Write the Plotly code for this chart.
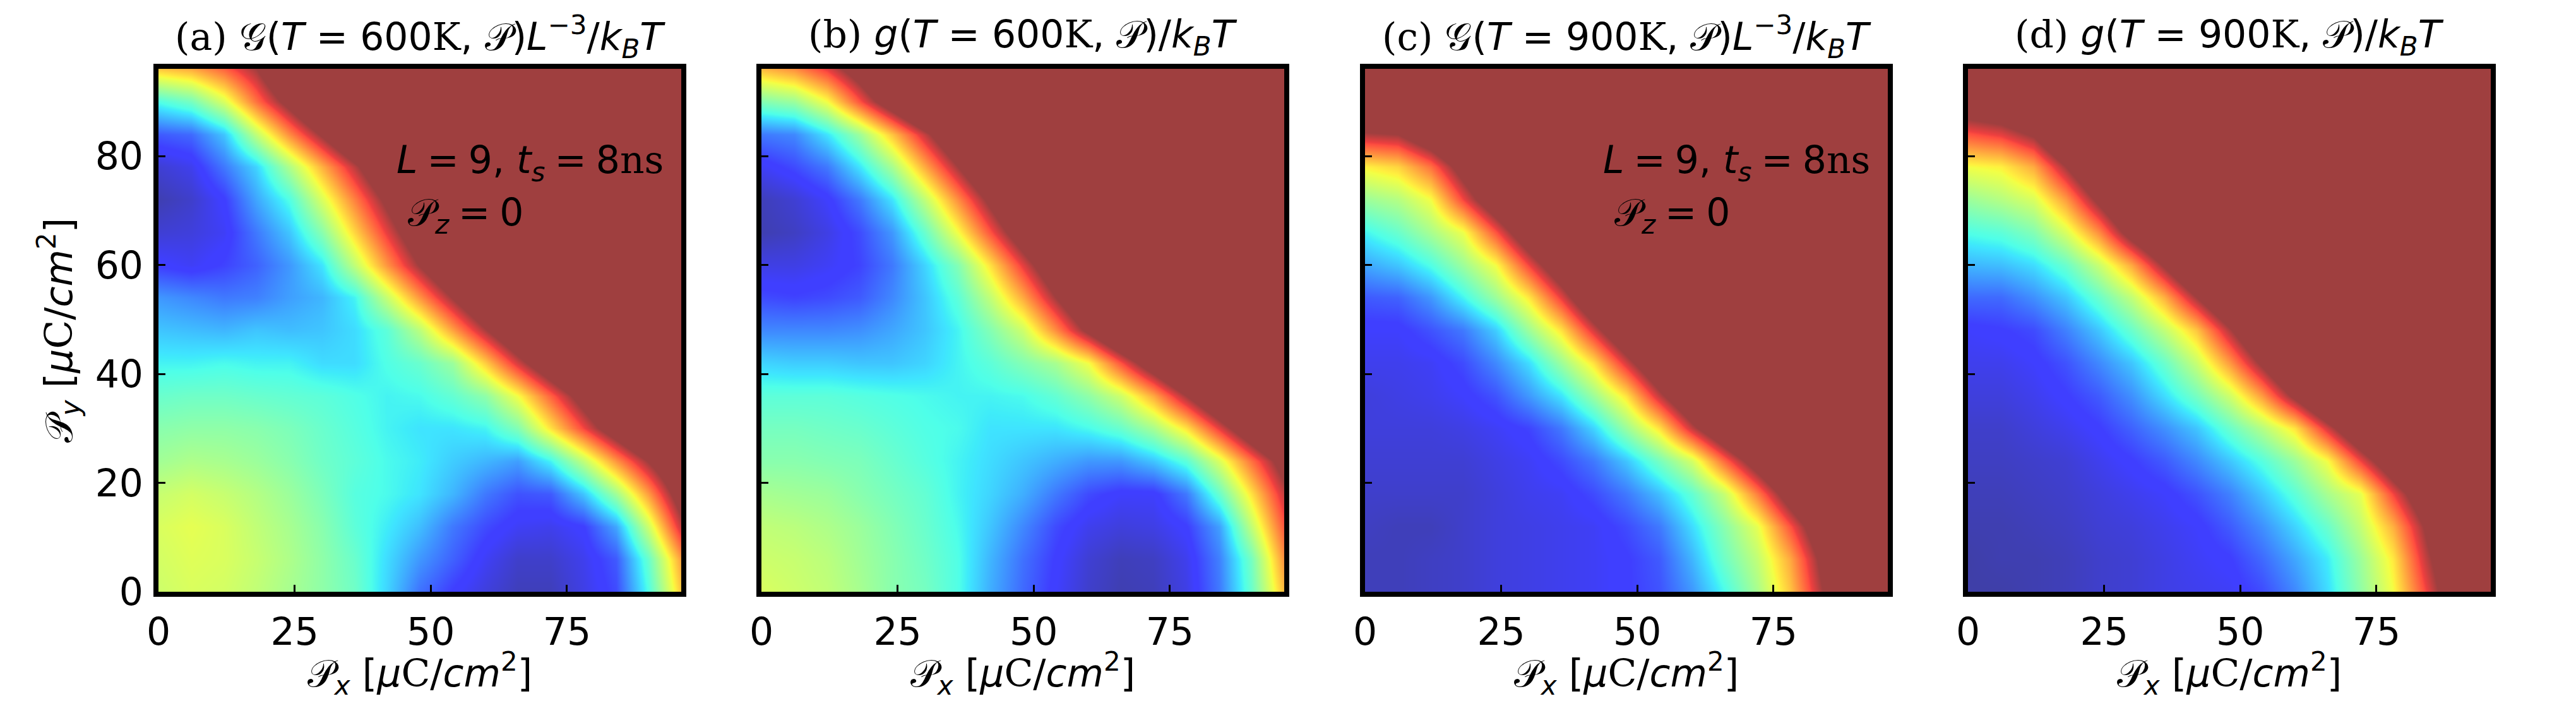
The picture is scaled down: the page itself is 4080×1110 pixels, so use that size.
import plotly.graph_objects as go

# the page keeps its 8px body margin, so the figure is that much smaller than the window
MARGIN = 8
W, H = 4080 - MARGIN, 1110 - MARGIN

# grid of the maps, both axes, in uC/cm2
grid = [0, 6, 12, 18, 24, 30, 36, 42, 48, 54, 60, 66, 72, 78, 84, 90, 96]
x_ticks = [0, 25, 50, 75]
y_ticks = [0, 20, 40, 60, 80]

# normalised free energy, one list per y value; above 1 is off the colour scale,
# rows stop where the map is deep in the saturated part
G_600 = [
    [.58, .60, .59, .56, .52, .48, .43, .32, .19, .12, .07, .03, .03, .08, .14, .38, .72],
    [.59, .61, .60, .57, .53, .48, .42, .33, .24, .17, .10, .05, .05, .09, .16, .42, .78],
    [.60, .62, .60, .56, .52, .47, .40, .35, .29, .20, .14, .10, .09, .12, .26, .58, .96],
    [.57, .59, .57, .54, .50, .45, .39, .37, .34, .28, .20, .15, .16, .30, .51, .78, 1.1],
    [.51, .53, .52, .50, .47, .43, .40, .37, .35, .31, .28, .25, .36, .56, .79, 1.01, 1.23],
    [.47, .48, .48, .47, .45, .42, .39, .36, .34, .34, .36, .46, .68, .90, 1.12, 1.34],
    [.42, .43, .43, .42, .41, .40, .38, .36, .37, .41, .48, .64, .86, 1.08, 1.3],
    [.36, .36, .37, .36, .36, .33, .33, .38, .42, .50, .71, .94, 1.16, 1.38],
    [.30, .29, .28, .30, .29, .30, .33, .40, .55, .77, .99, 1.21, 1.43],
    [.24, .22, .20, .21, .25, .28, .36, .57, .79, 1.01, 1.23, 1.45],
    [.12, .10, .13, .17, .24, .34, .56, .79, 1.01, 1.23, 1.45],
    [.06, .07, .10, .20, .30, .47, .70, .92, 1.14, 1.36],
    [.02, .05, .12, .26, .38, .60, .82, 1.04, 1.26],
    [.06, .09, .20, .32, .53, .75, .97, 1.2, 1.42],
    [.16, .18, .30, .56, .80, 1.02, 1.25, 1.47],
    [.38, .44, .60, .84, 1.06, 1.3],
    [.72, .76, .86, 1.0, 1.25],
]

g_600 = [
    [.60, .58, .56, .52, .47, .44, .38, .27, .18, .11, .05, .02, .03, .08, .20, .42, .74],
    [.58, .57, .55, .51, .47, .43, .38, .28, .19, .12, .06, .03, .04, .09, .21, .44, .80],
    [.56, .55, .53, .50, .46, .42, .37, .30, .22, .14, .09, .07, .08, .12, .25, .56, .88],
    [.52, .51, .50, .47, .44, .41, .36, .32, .27, .20, .14, .11, .11, .20, .42, .68, .96],
    [.47, .47, .46, .45, .42, .39, .36, .33, .30, .27, .24, .24, .30, .40, .60, .84, 1.08],
    [.44, .44, .43, .42, .40, .38, .37, .34, .34, .34, .37, .42, .52, .68, .92, 1.16, 1.4],
    [.40, .40, .40, .39, .38, .37, .36, .36, .37, .41, .48, .58, .76, 1.0, 1.24, 1.48],
    [.32, .31, .31, .30, .30, .32, .36, .40, .46, .52, .64, .88, 1.12, 1.36],
    [.22, .22, .22, .23, .26, .30, .36, .46, .58, .80, 1.04, 1.28, 1.5],
    [.14, .13, .14, .16, .22, .30, .40, .56, .76, 1.0, 1.24, 1.48],
    [.08, .08, .10, .13, .20, .32, .46, .68, .92, 1.16, 1.4],
    [.02, .04, .08, .14, .24, .42, .64, .88, 1.12, 1.36],
    [.03, .06, .11, .20, .34, .56, .80, 1.04, 1.28, 1.5],
    [.10, .14, .20, .34, .52, .76, 1.0, 1.24, 1.48],
    [.20, .22, .34, .50, .72, .96, 1.2, 1.44],
    [.46, .50, .64, .88, 1.12, 1.36],
    [.74, .80, .92, 1.1, 1.35],
]

G_900 = [
    [.03, .03, .04, .05, .07, .08, .09, .10, .12, .15, .24, .37, .52, .72, 1.0, 1.25],
    [.03, .03, .04, .05, .07, .08, .09, .10, .12, .16, .28, .43, .56, .76, 1.05, 1.3],
    [.04, .03, .03, .05, .07, .08, .09, .10, .14, .20, .33, .47, .62, .88, 1.15, 1.4],
    [.05, .05, .05, .05, .07, .09, .10, .14, .20, .29, .41, .57, .82, 1.1, 1.35],
    [.06, .06, .06, .06, .08, .10, .14, .20, .30, .44, .59, .85, 1.1, 1.35],
    [.07, .07, .07, .08, .10, .13, .20, .32, .50, .68, .96, 1.2, 1.45],
    [.07, .08, .09, .11, .15, .24, .34, .50, .68, .96, 1.22, 1.46],
    [.09, .09, .10, .14, .22, .33, .50, .68, .94, 1.2, 1.45],
    [.11, .11, .15, .20, .31, .50, .68, .94, 1.2, 1.45],
    [.16, .17, .24, .36, .50, .67, .92, 1.2, 1.45],
    [.26, .30, .38, .50, .64, .90, 1.15, 1.4],
    [.36, .42, .52, .63, .88, 1.15, 1.4],
    [.50, .54, .64, .90, 1.15, 1.4],
    [.66, .70, .84, 1.08, 1.3],
    [.98, 1.0, 1.15, 1.35],
    [1.3, 1.3, 1.4],
    [1.5],
]

g_900 = [
    [.01, .01, .02, .03, .05, .06, .08, .09, .10, .14, .22, .33, .48, .64, .90, 1.16],
    [.01, .02, .02, .03, .05, .06, .08, .10, .12, .18, .26, .35, .50, .67, .96, 1.2],
    [.02, .02, .03, .04, .06, .07, .09, .11, .16, .23, .32, .42, .56, .75, 1.02, 1.28],
    [.03, .03, .04, .05, .07, .09, .11, .15, .21, .30, .40, .52, .62, .90, 1.15, 1.4],
    [.04, .04, .05, .06, .09, .12, .16, .22, .30, .39, .50, .64, .90, 1.15, 1.4],
    [.05, .05, .07, .09, .12, .17, .23, .30, .42, .54, .68, .94, 1.2, 1.45],
    [.07, .07, .09, .12, .16, .23, .33, .44, .58, .78, 1.04, 1.3],
    [.09, .09, .11, .15, .22, .30, .42, .57, .78, 1.03, 1.3],
    [.11, .12, .14, .21, .30, .42, .56, .72, .98, 1.24, 1.5],
    [.18, .18, .23, .30, .42, .56, .75, 1.0, 1.25, 1.5],
    [.28, .29, .33, .42, .57, .76, 1.02, 1.28],
    [.38, .40, .46, .60, .80, 1.08, 1.3],
    [.50, .54, .60, .78, 1.04, 1.3],
    [.64, .66, .76, 1.0, 1.26],
    [.88, .92, 1.02, 1.28],
    [1.14, 1.18, 1.28],
    [1.4],
]

panels = [
    ("(a)", "𝒢", "600", True, G_600),
    ("(b)", "<i>g</i>", "600", False, g_600),
    ("(c)", "𝒢", "900", True, G_900),
    ("(d)", "<i>g</i>", "900", False, g_900),
]

# matplotlib jet, drawn at alpha 0.75
jet = [
    [0, "rgb(0,0,128)"], [.11, "rgb(0,0,255)"], [.125, "rgb(0,0,255)"],
    [.34, "rgb(0,219,255)"], [.35, "rgb(0,230,247)"], [.375, "rgb(20,255,226)"],
    [.64, "rgb(238,255,8)"], [.65, "rgb(247,246,0)"], [.66, "rgb(255,236,0)"],
    [.89, "rgb(255,19,0)"], [.91, "rgb(232,0,0)"], [1, "rgb(128,0,0)"],
]

SERIF = "DejaVu Serif"
SANS = "DejaVu Sans"
QSP = "\u2005"  # narrower space, as around = in the math text

# axes boxes in page pixels, inner edges
left = [251, 1206, 2162, 3117]
box_w = 828
top, bottom = 109, 937


def px_x(p):
    return (p - MARGIN) / W


def px_y(p):
    return 1 - (p - MARGIN) / H


def serif(s):
    return f'<span style="font-family:{SERIF}">{s}</span>'


def full(rows):
    # rest of each row is off the scale
    return [r + [1.6] * (len(grid) - len(r)) for r in rows]


def unit_label(sub):
    return f'𝒫<sub><i>{sub}</i></sub> [<i>μ</i>{serif("C")}/<i>cm</i><sup>2</sup>]'


fig = go.Figure()
annotations = []
for i, (tag, sym, temp, extensive, rows) in enumerate(panels):
    n = "" if i == 0 else str(i + 1)
    fig.add_trace(go.Heatmap(
        x=grid, y=grid, z=full(rows), xaxis=f"x{n}", yaxis=f"y{n}",
        colorscale=jet, zmin=0, zmax=1, opacity=0.75,
        zsmooth="best", showscale=False,
    ))
    axis = dict(
        showgrid=False, zeroline=False, showline=True, mirror=True,
        automargin=False, ticklabelstandoff=4,
        linecolor="black", linewidth=8, ticks="inside", ticklen=11,
        tickwidth=3, tickcolor="black",
        tickfont=dict(family=SANS, size=60, color="black"),
    )
    fig.update_layout({
        f"xaxis{n}": dict(
            axis, range=[0, 96], tickvals=x_ticks, anchor=f"y{n}",
            domain=[px_x(left[i]), px_x(left[i] + box_w)],
            title=dict(
                text=unit_label("x"),
                font=dict(family=SANS, size=60, color="black"), standoff=27,
            ),
        ),
        f"yaxis{n}": dict(
            axis, range=[0, 96], tickvals=y_ticks, anchor=f"x{n}",
            showticklabels=i == 0,
            domain=[px_y(bottom), px_y(top)],
            title=dict(
                text=unit_label("y"),
                font=dict(family=SANS, size=60, color="black"), standoff=20,
            ) if i == 0 else None,
        ),
    })
    power = "<i>L</i><sup>−3</sup>" if extensive else ""
    title = (f'{serif(tag)} {sym}(<i>T</i> = {temp}{serif("K")}, 𝒫)'
             f'{power}/<i>k<sub>B</sub>T</i>')
    annotations.append(dict(
        text=title, xref=f"x{n} domain", yref="paper", x=0.5, y=px_y(58),
        xanchor="center", yanchor="middle", showarrow=False,
        font=dict(family=SANS, size=60, color="black"),
    ))
    if i in (0, 2):
        annotations.append(dict(
            text=f'<i>L</i>{QSP}={QSP}9, <i>t<sub>s</sub></i>{QSP}={QSP}8{serif("ns")}',
            xref=f"x{n} domain", yref="paper", x=0.968, y=px_y(258),
            xanchor="right", yanchor="middle", showarrow=False,
            font=dict(family=SANS, size=60, color="black"),
        ))
        annotations.append(dict(
            text=f"𝒫<sub><i>z</i></sub>{QSP}={QSP}0",
            xref=f"x{n} domain", yref="paper", x=0.475, y=px_y(341),
            xanchor="left", yanchor="middle", showarrow=False,
            font=dict(family=SANS, size=60, color="black"),
        ))

fig.update_layout(
    width=W, height=H, margin=dict(l=0, r=0, t=0, b=0),
    paper_bgcolor="white", plot_bgcolor="white", showlegend=False,
    annotations=annotations,
)

fig.write_html("out.html")
